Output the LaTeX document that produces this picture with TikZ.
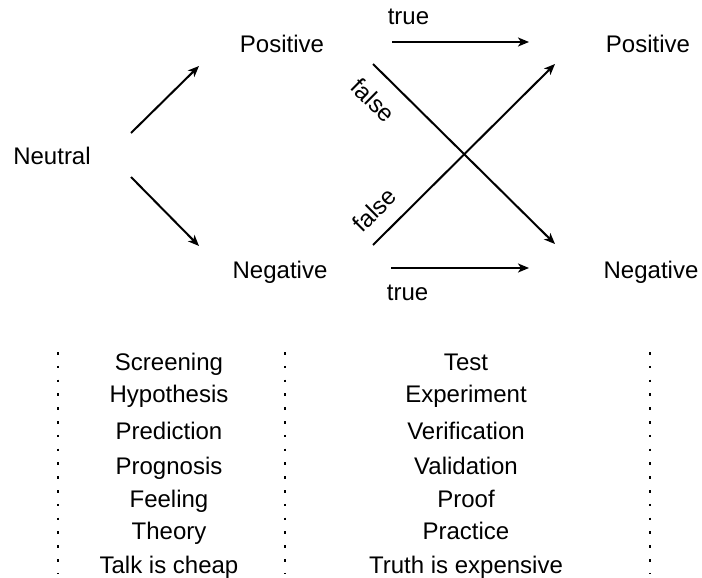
\documentclass[tikz,border=0pt]{standalone}
\usepackage{fontspec}
\setmainfont{Liberation Sans}
\usepackage{tikz}
\usetikzlibrary{arrows.meta, positioning, calc}

\begin{document}
\begin{tikzpicture}[
    x=0.5pt, y=-0.5pt,
    word/.style={inner sep=0pt, anchor=base, font=\fontsize{12}{14}\selectfont},
    lab/.style={inner sep=4pt, font=\fontsize{12}{14}\selectfont},
    arr/.style={-{Stealth[length=5.5pt, width=4.5pt, inset=1.5pt]}, line width=1pt},
    sep/.style={line width=1pt, dash pattern=on 1.3pt off 5.6pt}
]
\useasboundingbox (0,0) rectangle (702,578);

\node[word] (neu) at (52,164) {Neutral};
\node[word] (lpos) at (282,52) {Positive};
\node[word] (lneg) at (280,278) {Negative};
\node[word] (rpos) at (648,52) {Positive};
\node[word] (rneg) at (651,278) {Negative};

\draw[arr] ($(neu.base)+(79,-31)$) -- ($(lpos.base)+(-83,14)$);
\draw[arr] ($(neu.base)+(79,13)$) -- ($(lneg.base)+(-81,-32)$);
\draw[arr] ($(lpos.base)+(110,-10)$) -- node[lab, pos=0.12, above=4pt] {true} ($(rpos.base)+(-119,-10)$);
\draw[arr] ($(lneg.base)+(111,-10)$) -- node[lab, pos=0.12, below=4pt] {true} ($(rneg.base)+(-122,-10)$);
\draw[arr] ($(lpos.base)+(91,12)$) -- node[lab, sloped, pos=0.1, below=4pt] {false} ($(rneg.base)+(-96,-34)$);
\draw[arr] ($(lneg.base)+(93,-33)$) -- node[lab, sloped, pos=0.1, above=3pt] {false} ($(rpos.base)+(-93,12)$);

\draw[sep] (58,352) -- (58,574);
\draw[sep] (285,352) -- (285,574);
\draw[sep] (650,352) -- (650,574);

\node[word] (scr) at (169,370) {Screening};
\node[word] (hyp) at (169,402) {Hypothesis};
\node[word] (pre) at (169,439) {Prediction};
\node[word] (prg) at (169,474) {Prognosis};
\node[word] (fee) at (169,507) {Feeling};
\node[word] (the) at (169,539) {Theory};
\node[word] (tlk) at (169,573) {Talk is cheap};

\node[word] (tst) at (466,370) {Test};
\node[word] (exp) at (466,402) {Experiment};
\node[word] (ver) at (466,439) {Verification};
\node[word] (val) at (466,474) {Validation};
\node[word] (prf) at (466,507) {Proof};
\node[word] (pra) at (466,539) {Practice};
\node[word] (tru) at (466,573) {Truth is expensive};
\end{tikzpicture}
\end{document}
